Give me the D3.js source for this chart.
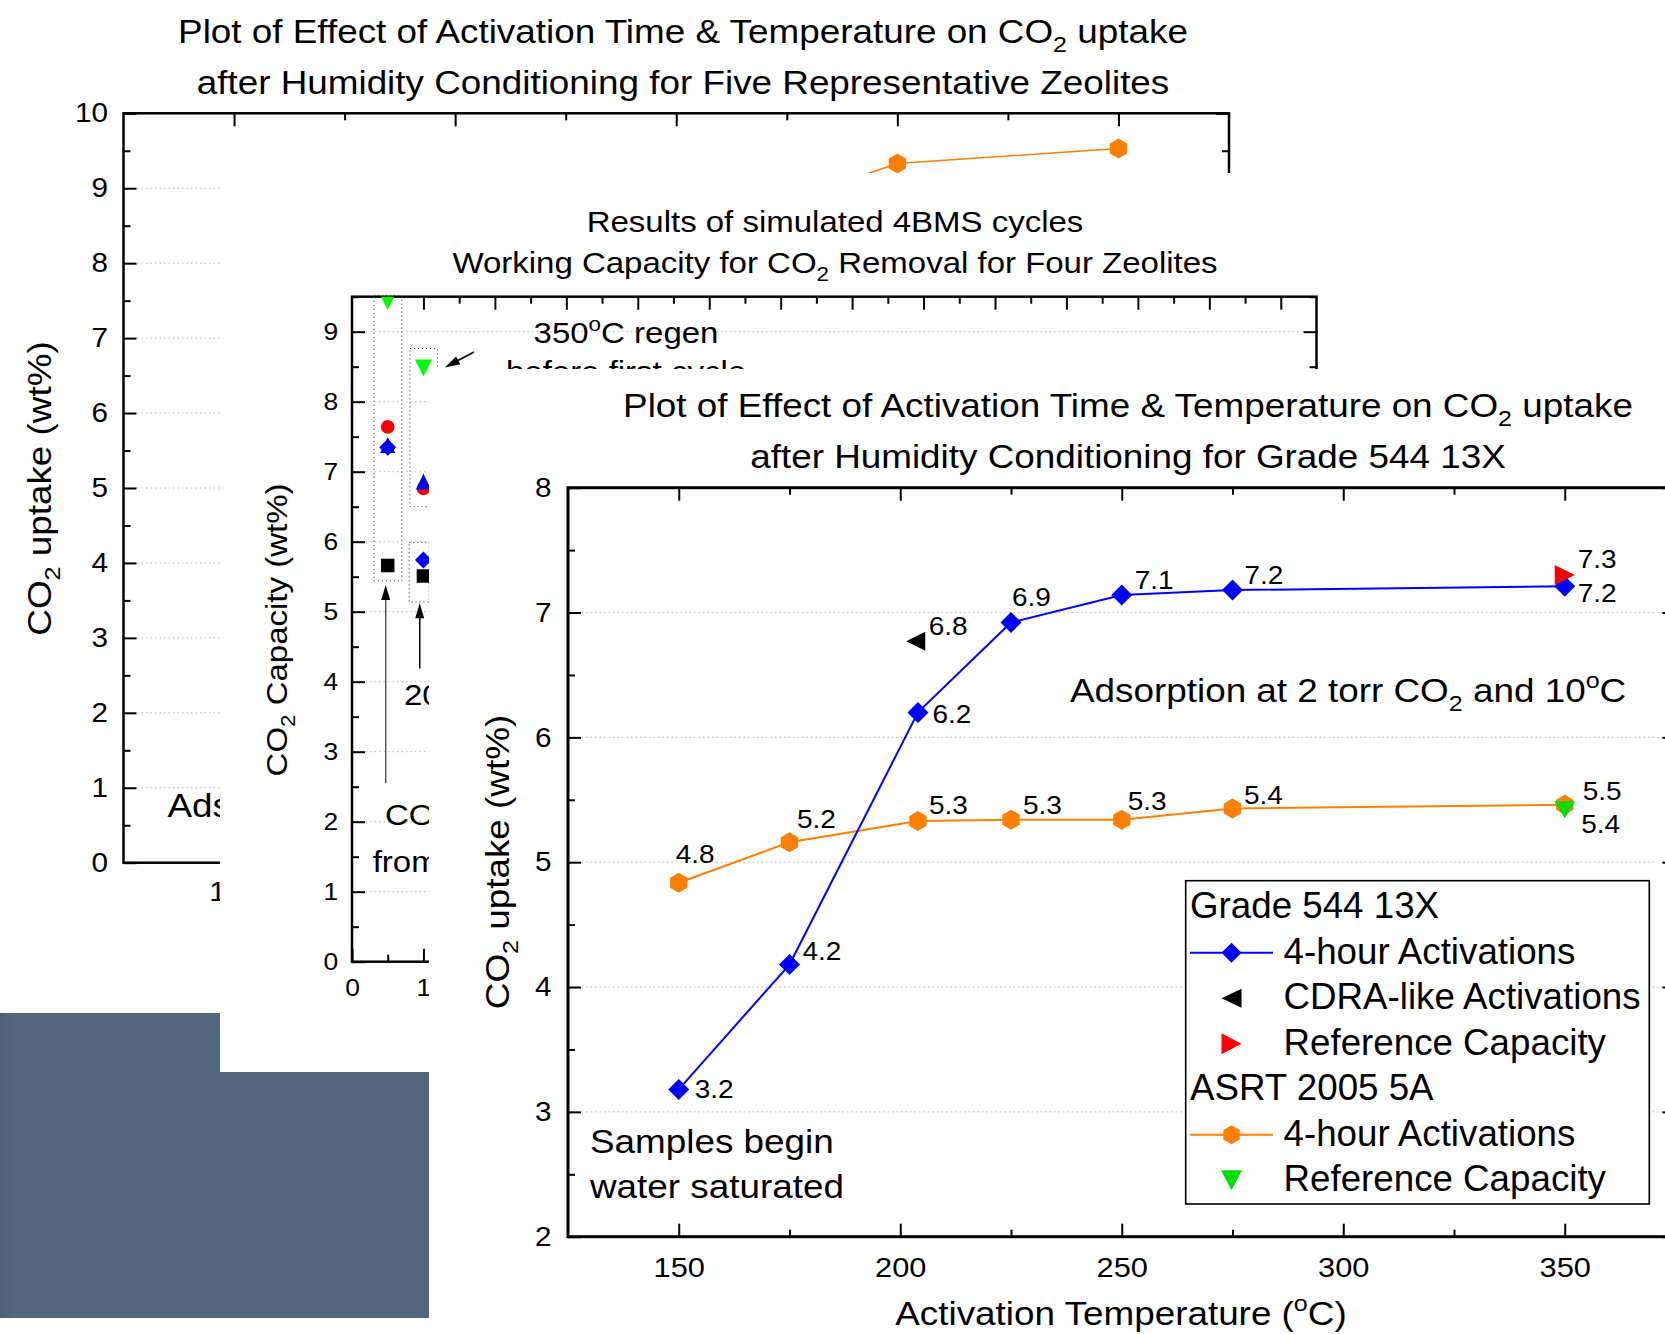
<!DOCTYPE html>
<html><head><meta charset="utf-8">
<script src="https://cdn.jsdelivr.net/npm/d3@7"></script>
<style>
html,body{margin:0;padding:0;background:#fff;}
svg{display:block;}
text{font-family:"Liberation Sans", Arial, Helvetica, sans-serif;fill:#000;}
</style></head><body>
<svg id="c" width="1665" height="1334"></svg>
<script>
// ================= DATA =================
// Chart 1 (back layer): Five representative zeolites
const c1YTicks = [0,1,2,3,4,5,6,7,8,9,10];
const c1XTicks = [1,2,3,4,5];
const c1XLabels = ["1","2","3","4","5"];
const c1OrangeX = [3,4,5];
const c1OrangeY = [8.33,9.33,9.53];

// Chart 2 (middle layer): simulated 4BMS cycles, working capacity
const c2YTicks = [0,1,2,3,4,5,6,7,8,9];
const c2XTicks = [0,1,2,3,4,5,6,7,8,9,10,11,12,13];
const c2Cycle = [0.5,1];
const c2Square = [5.66,5.51];
const c2Circle = [7.64,6.76];
const c2UpTri = [7.38,6.86];
const c2Diamond = [7.35,5.74];
const c2DownTri = [9.43,8.48];

// Chart 3 (front layer): Grade 544 13X vs ASRT 2005 5A
const temps = [150,175,204,225,250,275,350];
const grade544 = [3.18,4.18,6.20,6.92,7.14,7.18,7.21];
const asrt5A = [4.835,5.16,5.33,5.34,5.34,5.43,5.46];
const cdraT = [203.5], cdraY = [6.77];
const refGradeT = [350], refGradeY = [7.30];
const ref5AT = [350], ref5AY = [5.42];
const c3XTicks = [150,200,250,300,350];
const c3YTicks = [2,3,4,5,6,7,8];
const legendRows = [
  {label:"Grade 544 13X"},
  {label:"4-hour Activations", sym:"diamond", color:"#0000FF", line:true},
  {label:"CDRA-like Activations", sym:"left", color:"#000000"},
  {label:"Reference Capacity", sym:"right", color:"#FF0000"},
  {label:"ASRT 2005 5A"},
  {label:"4-hour Activations", sym:"hexagon", color:"#FF8000", line:true},
  {label:"Reference Capacity", sym:"down", color:"#00DD00"}
];

// ================= HELPERS =================
const svg = d3.select('#c');
svg.append('rect').attr('width',1665).attr('height',1334).attr('fill','#fff');

function T(parent, x, y, parts, o={}) {
  const size=o.size||30, sx=o.sx||1, anchor=o.anchor||'start';
  const g=parent.append('g').attr('transform',
    `translate(${x},${y})${o.rot?` rotate(${o.rot})`:''} scale(${sx},1)`);
  const t=g.append('text').attr('font-size',size).attr('text-anchor',anchor);
  if(typeof parts==='string') parts=[[parts]];
  let shift=0;
  parts.forEach(([s,k])=>{
    const sp=t.append('tspan').text(s);
    const target = k==='sub' ? size*0.28 : (k==='sup' ? -size*0.42 : 0);
    if(target!==shift){ sp.attr('dy', target-shift); shift=target; }
    if(k) sp.attr('font-size', size*0.68);
  });
  return g;
}
function symPath(type,a,b){
  b = b||a;
  switch(type){
    case 'diamond': return `M0,${-a}L${a},0L0,${a}L${-a},0Z`;
    case 'hexagon': { const w=a*Math.sqrt(3)/2; return `M0,${-a}L${w},${-a/2}L${w},${a/2}L0,${a}L${-w},${a/2}L${-w},${-a/2}Z`; }
    case 'left': return `M${-a/2},0L${a/2},${-b/2}L${a/2},${b/2}Z`;
    case 'right': return `M${a/2},0L${-a/2},${-b/2}L${-a/2},${b/2}Z`;
    case 'down': return `M${-a/2},${-b/2}L${a/2},${-b/2}L0,${b/2}Z`;
    case 'up': return `M${-a/2},${b/2}L${a/2},${b/2}L0,${-b/2}Z`;
    case 'square': return `M${-a/2},${-a/2}h${a}v${a}h${-a}Z`;
    case 'circle': return `M${-a},0a${a},${a} 0 1,0 ${2*a},0a${a},${a} 0 1,0 ${-2*a},0Z`;
  }
}
function drawAxis(parent, orient, scale, pos, majors, minors, opt={}){
  const A={left:d3.axisLeft,right:d3.axisRight,top:d3.axisTop,bottom:d3.axisBottom}[orient];
  const vert = orient==='left'||orient==='right';
  const tr = vert?`translate(${pos},0)`:`translate(0,${pos})`;
  const sw = opt.sw||2;
  if(minors && minors.length){
    const gm=parent.append('g').attr('transform',tr)
      .call(A(scale).tickValues(minors).tickSizeInner(-(opt.minor||7)).tickSizeOuter(0).tickFormat(()=>''));
    gm.select('.domain').remove();
    gm.selectAll('line').attr('stroke-width',sw);
  }
  const ax=A(scale).tickValues(majors).tickSizeInner(-(opt.major||13)).tickSizeOuter(0)
    .tickPadding(opt.pad||0).tickFormat(opt.labels ? ((d,i)=>opt.labels[i]) : (()=>''));
  const g=parent.append('g').attr('transform',tr).call(ax);
  g.select('.domain').remove();
  g.selectAll('line').attr('stroke-width',sw);
  if(opt.labels){
    g.attr('font-size',opt.fs);
    g.selectAll('text').attr('transform',`scale(${opt.sx||1},1)`);
    if(opt.dx) g.selectAll('text').attr('dx',opt.dx);
    if(opt.only) g.selectAll('text').filter(d=>!opt.only.includes(d)).remove();
  }
  return g;
}
function frame(parent,x0,x1,y0,y1,sw){
  parent.append('rect').attr('x',x0).attr('y',y0).attr('width',x1-x0).attr('height',y1-y0)
    .attr('fill','none').attr('stroke','#000').attr('stroke-width',sw);
}
function grid(parent, xs, yscale, vals){
  parent.append('g').selectAll('line').data(vals).join('line')
    .attr('x1',xs[0]).attr('x2',xs[1]).attr('y1',d=>yscale(d)).attr('y2',d=>yscale(d))
    .attr('stroke','#BDBDBD').attr('stroke-width',1).attr('stroke-dasharray','1.5,3');
}
const BIG = {size:33.5, sx:1.1};

// ================= LAYER 1 =================
const L1 = svg.append('g');
const x1 = d3.scaleLinear().domain([0.5,5.5]).range([123.5,1229]);
const y1 = d3.scaleLinear().domain([0,10]).range([862.7,113.3]);
grid(L1, [x1(0.5),x1(5.5)], y1, d3.range(1,10));
T(L1, 683, 42.5, [["Plot of Effect of Activation Time & Temperature on CO"],["2","sub"],[" uptake"]], {...BIG, anchor:'middle'});
T(L1, 683, 94, "after Humidity Conditioning for Five Representative Zeolites", {...BIG, anchor:'middle'});
drawAxis(L1,'left',y1,x1(0.5),c1YTicks,d3.range(0.5,10,1),{labels:c1YTicks.map(String),fs:27,pad:14,sx:1.1});
drawAxis(L1,'top',x1,y1(10),c1XTicks,[1.5,2.5,3.5,4.5]);
drawAxis(L1,'right',y1,x1(5.5),c1YTicks,d3.range(0.5,10,1));
drawAxis(L1,'bottom',x1,y1(0),c1XTicks,[1.5,2.5,3.5,4.5],{labels:c1XLabels,fs:27,pad:19,sx:1.1,dx:-15.5,only:[1]});
frame(L1, x1(0.5), x1(5.5), y1(10), y1(0), 2.5);
T(L1, 167.5, 816.7, "Ads", BIG);
T(L1, 51, 488.5, [["CO"],["2","sub"],[" uptake (wt%)"]], {...BIG, anchor:'middle', rot:-90});
const c1pts = c1OrangeX.map((x,i)=>[x1(x), y1(c1OrangeY[i])]);
L1.append('path').attr('d',d3.line()(c1pts)).attr('fill','none').attr('stroke','#FF8000').attr('stroke-width',1.5);
L1.selectAll('.h1').data(c1pts).join('path').attr('d',symPath('hexagon',10))
  .attr('transform',d=>`translate(${d[0]},${d[1]})`).attr('fill','#FF8000');

// ================= LAYER 2 =================
const L2 = svg.append('g');
L2.append('rect').attr('x',220).attr('y',173).attr('width',1125).attr('height',1161).attr('fill','#fff');
const x2 = d3.scaleLinear().domain([0,13.5]).range([352,1316.5]);
const y2 = d3.scaleLinear().domain([0,9.5]).range([961.7,296.7]);
grid(L2, [x2(0),x2(13.5)], y2, d3.range(1,10));
T(L2, 835, 232, "Results of simulated 4BMS cycles", {size:30, sx:1.1, anchor:'middle'});
T(L2, 835, 272.7, [["Working Capacity for CO"],["2","sub"],[" Removal for Four Zeolites"]], {size:30, sx:1.1, anchor:'middle'});
drawAxis(L2,'left',y2,x2(0),c2YTicks,d3.range(0.5,9.6,1),{labels:c2YTicks.map(String),fs:24,pad:12.5,sx:1.1});
drawAxis(L2,'top',x2,y2(9.5),c2XTicks.slice(1),d3.range(0.5,13.4,1));
drawAxis(L2,'right',y2,x2(13.5),c2YTicks,d3.range(0.5,9.6,1));
drawAxis(L2,'bottom',x2,y2(0),c2XTicks,d3.range(0.5,13.4,1),{labels:c2XTicks.map(String),fs:24,pad:17,sx:1.1,only:[0,1]});
frame(L2, x2(0), x2(13.5), y2(9.5), y2(0), 2.5);
T(L2, 287, 630, [["CO"],["2","sub"],[" Capacity (wt%)"]], {size:30, sx:1.1, anchor:'middle', rot:-90});
// dotted boxes
const boxes = [[0.308,0.696,5.44,9.52],[0.812,1.194,6.5,8.76],[0.80,1.08,5.14,5.99]];
L2.selectAll('.bx').data(boxes).join('rect')
  .attr('x',d=>x2(d[0])).attr('width',d=>x2(d[1])-x2(d[0]))
  .attr('y',d=>y2(d[3])).attr('height',d=>y2(d[2])-y2(d[3]))
  .attr('fill','none').attr('stroke','#444').attr('stroke-width',1).attr('stroke-dasharray','1.2,2.8');
// markers (clipped to plot)
L2.append('clipPath').attr('id','clip2').append('rect')
  .attr('x',x2(0)).attr('y',y2(9.5)).attr('width',x2(13.5)-x2(0)).attr('height',y2(0)-y2(9.5));
const M2 = L2.append('g').attr('clip-path','url(#clip2)');
const c2Series = [
  {v:c2Square, sym:'square', a:13.5, color:'#000'},
  {v:c2Circle, sym:'circle', a:6.8, color:'#FF0000'},
  {v:c2UpTri, sym:'up', a:15, b:16, color:'#0000FF'},
  {v:c2Diamond, sym:'diamond', a:8.5, color:'#0000FF'},
  {v:c2DownTri, sym:'down', a:17, b:17, color:'#00FF00'}
];
c2Series.forEach(s=>{
  M2.selectAll(null).data(s.v).join('path').attr('d',symPath(s.sym,s.a,s.b))
    .attr('transform',(d,i)=>`translate(${x2(c2Cycle[i])},${y2(d)})`).attr('fill',s.color);
});
// arrows
const arrows = [{x1:0.472,y1:2.55,x2:0.472,y2:5.38,c:'#555'},{x1:0.948,y1:4.19,x2:0.948,y2:5.12,c:'#000'},{x1:1.708,y1:8.71,x2:1.30,y2:8.49,c:'#000'}];
arrows.forEach(a=>{
  const X1=x2(a.x1),Y1=y2(a.y1),X2=x2(a.x2),Y2=y2(a.y2);
  const ang=Math.atan2(Y2-Y1,X2-X1);
  L2.append('line').attr('x1',X1).attr('y1',Y1).attr('x2',X2-Math.cos(ang)*10).attr('y2',Y2-Math.sin(ang)*10)
    .attr('stroke',a.c).attr('stroke-width',1.5);
  L2.append('path').attr('d','M0,0L-15,-4.5L-15,4.5Z').attr('fill','#000')
    .attr('transform',`translate(${X2},${Y2}) rotate(${ang*180/Math.PI})`);
});
T(L2, 626, 343.3, [["350"],["o","sup"],["C regen"]], {size:30, sx:1.1, anchor:'middle'});
T(L2, 626, 382, "before first cycle", {size:30, sx:1.1, anchor:'middle'});
T(L2, 385, 825, "CO", {size:30, sx:1.1});
T(L2, 372.7, 871.7, "from", {size:30, sx:1.1});
T(L2, 404, 705, "20", {size:30, sx:1.1});

// ================= LAYER 3 =================
const L3 = svg.append('g');
L3.append('rect').attr('x',429).attr('y',369).attr('width',1240).attr('height',970).attr('fill','#fff');
const x3 = d3.scaleLinear().domain([125,375]).range([568,1675.5]);
const y3 = d3.scaleLinear().domain([2,8]).range([1236.7,487.7]);
grid(L3, [x3(125),x3(375)], y3, [3,4,5,6,7]);
T(L3, 1128, 416.7, [["Plot of Effect of Activation Time & Temperature on CO"],["2","sub"],[" uptake"]], {...BIG, anchor:'middle'});
T(L3, 1128, 468.3, "after Humidity Conditioning for Grade 544 13X", {...BIG, anchor:'middle'});
drawAxis(L3,'left',y3,x3(125),c3YTicks,d3.range(2.5,8,1),{labels:c3YTicks.map(String),fs:27,pad:15,sx:1.1,sw:2});
drawAxis(L3,'top',x3,y3(8),c3XTicks,[175,225,275,325]);
drawAxis(L3,'right',y3,x3(375),c3YTicks,d3.range(2.5,8,1));
drawAxis(L3,'bottom',x3,y3(2),c3XTicks,[175,225,275,325],{labels:c3XTicks.map(String),fs:28,pad:20,sx:1.1});
frame(L3, x3(125), x3(375), y3(8), y3(2), 3);
T(L3, 508.5, 862, [["CO"],["2","sub"],[" uptake (wt%)"]], {...BIG, anchor:'middle', rot:-90});
T(L3, 1121, 1325, [["Activation Temperature ("],["o","sup"],["C)"]], {...BIG, anchor:'middle'});
T(L3, 1070, 701.7, [["Adsorption at 2 torr CO"],["2","sub"],[" and 10"],["o","sup"],["C"]], BIG);
T(L3, 590, 1153.3, "Samples begin", BIG);
T(L3, 590, 1198.3, "water saturated", BIG);

const fmt = d3.format('.1f');
const line3 = d3.line().x(d=>x3(d[0])).y(d=>y3(d[1]));
const bluePts = temps.map((t,i)=>[t,grade544[i]]);
const orPts = temps.map((t,i)=>[t,asrt5A[i]]);
L3.append('path').attr('d',line3(orPts)).attr('fill','none').attr('stroke','#FF8000').attr('stroke-width',2);
L3.append('path').attr('d',line3(bluePts)).attr('fill','none').attr('stroke','#0000FF').attr('stroke-width',2);
function marks(pts, sym, a, b, color){
  L3.selectAll(null).data(pts).join('path').attr('d',symPath(sym,a,b))
    .attr('transform',d=>`translate(${x3(d[0])},${y3(d[1])})`).attr('fill',color);
}
marks(orPts,'hexagon',10,null,'#FF8000');
marks(ref5AT.map((t,i)=>[t,ref5AY[i]]),'down',21,17,'#00DD00');
marks(bluePts,'diamond',10.5,null,'#0000FF');
marks(refGradeT.map((t,i)=>[t,refGradeY[i]]),'right',20,20,'#FF0000');
marks(cdraT.map((t,i)=>[t,cdraY[i]]),'left',19,19,'#000000');

// value labels
const LBL = {size:25, sx:1.12};
const blueOff = [[16,9],[13,-5],[14.5,11],[1,-17],[13,-6],[12,-6],[13,16]];
const orOff = [[-3,-20],[7.5,-14],[11,-7],[12,-6],[6,-10],[11.5,-5],[18,-5]];
bluePts.forEach((d,i)=>T(L3, x3(d[0])+blueOff[i][0], y3(d[1])+blueOff[i][1], fmt(d[1]), LBL));
orPts.forEach((d,i)=>T(L3, x3(d[0])+orOff[i][0], y3(d[1])+orOff[i][1], fmt(d[1]), LBL));
T(L3, x3(cdraT[0])+13, y3(cdraY[0])-6, fmt(cdraY[0]), LBL);
T(L3, x3(refGradeT[0])+13, y3(refGradeY[0])-7, fmt(refGradeY[0]), LBL);
T(L3, x3(ref5AT[0])+16.5, y3(ref5AY[0])+23, fmt(ref5AY[0]), LBL);

// legend
const LG = L3.append('g');
LG.append('rect').attr('x',1185.7).attr('y',880.7).attr('width',463.6).attr('height',323.3)
  .attr('fill','#fff').attr('stroke','#000').attr('stroke-width',1.6);
legendRows.forEach((r,i)=>{
  const by = 918.3 + i*45.5;
  if(!r.sym){ T(LG, 1190, by, r.label, {size:36, sx:1.02}); return; }
  const cy = by-11;
  if(r.line) LG.append('line').attr('x1',1190).attr('x2',1273).attr('y1',cy).attr('y2',cy).attr('stroke',r.color).attr('stroke-width',2);
  const dims = {diamond:[10],hexagon:[9.5],left:[20,19],right:[20,21],down:[21,20]}[r.sym];
  LG.append('path').attr('d',symPath(r.sym,dims[0],dims[1])).attr('transform',`translate(1231.5,${cy})`).attr('fill',r.color);
  T(LG, 1283.5, by, r.label, {size:36, sx:1.02});
});

// ================= SLATE BLOCK =================
const defs = svg.append('defs');
const lg = defs.append('linearGradient').attr('id','slateG').attr('x1','0').attr('x2','1');
lg.append('stop').attr('offset','0').attr('stop-color','#4C5F77');
lg.append('stop').attr('offset','0.03').attr('stop-color','#53687F');
lg.append('stop').attr('offset','1').attr('stop-color','#53687F');
svg.append('path').attr('d','M0,1013H220V1072H429V1318H0Z').attr('fill','url(#slateG)');
</script>
</body></html>
